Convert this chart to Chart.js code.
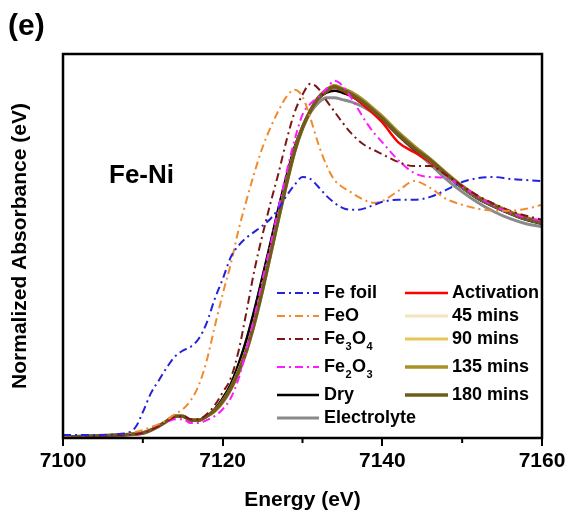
<!DOCTYPE html>
<html>
<head>
<meta charset="utf-8">
<script src="https://cdn.jsdelivr.net/npm/chart.js@4.4.0/dist/chart.umd.min.js"></script>
<style>
  html, body { margin: 0; padding: 0; background: #fff; }
</style>
</head>
<body>
<canvas id="xanes" width="571" height="529"></canvas>
<script>
// energy grid (eV) shared by every spectrum
const energy = [7100, 7104, 7107, 7109, 7110, 7111, 7112, 7113, 7114, 7115, 7116, 7117, 7118, 7119, 7120,
  7121, 7122, 7123, 7124, 7125, 7126, 7127, 7128, 7129, 7130, 7131, 7132, 7133, 7134, 7135, 7136, 7137,
  7138, 7139, 7140, 7142, 7144, 7146, 7148, 7150, 7152, 7154, 7156, 7158, 7160];

// reference spectra
const feFoil = [0.015, 0.015, 0.02, 0.05, 0.13, 0.225, 0.29, 0.355, 0.41, 0.44, 0.46, 0.5, 0.58, 0.7, 0.8,
  0.91, 0.97, 1.01, 1.04, 1.07, 1.105, 1.155, 1.22, 1.275, 1.315, 1.305, 1.265, 1.22, 1.185, 1.16, 1.15, 1.15,
  1.16, 1.175, 1.19, 1.2, 1.2, 1.215, 1.25, 1.29, 1.31, 1.315, 1.305, 1.3, 1.295];
const feO = [0.01, 0.015, 0.02, 0.03, 0.04, 0.055, 0.07, 0.09, 0.12, 0.145, 0.19, 0.265, 0.39, 0.56, 0.725,
  0.875, 1.05, 1.2, 1.34, 1.465, 1.565, 1.65, 1.72, 1.755, 1.72, 1.61, 1.48, 1.375, 1.3, 1.265, 1.24, 1.215,
  1.195, 1.185, 1.195, 1.245, 1.295, 1.26, 1.205, 1.175, 1.155, 1.145, 1.145, 1.155, 1.175];
const fe3o4 = [0.005, 0.01, 0.015, 0.02, 0.025, 0.04, 0.06, 0.085, 0.105, 0.11, 0.095, 0.095, 0.12, 0.165, 0.23,
  0.3, 0.44, 0.64, 0.85, 1.025, 1.185, 1.335, 1.5, 1.64, 1.73, 1.785, 1.76, 1.7, 1.645, 1.59, 1.54, 1.5,
  1.47, 1.45, 1.43, 1.39, 1.37, 1.37, 1.325, 1.27, 1.22, 1.18, 1.145, 1.12, 1.1];
const fe2o3 = [0.005, 0.01, 0.015, 0.02, 0.025, 0.04, 0.06, 0.08, 0.095, 0.095, 0.075, 0.075, 0.09, 0.11, 0.145,
  0.2, 0.3, 0.45, 0.615, 0.8, 0.975, 1.16, 1.34, 1.5, 1.63, 1.685, 1.72, 1.76, 1.8, 1.775, 1.72, 1.655,
  1.59, 1.535, 1.49, 1.4, 1.335, 1.315, 1.31, 1.265, 1.215, 1.17, 1.135, 1.11, 1.095];

// Fe-Ni sample spectra
const dry = [0.005, 0.01, 0.015, 0.02, 0.025, 0.04, 0.06, 0.085, 0.11, 0.11, 0.09, 0.09, 0.11, 0.145, 0.2,
  0.27, 0.375, 0.5, 0.65, 0.815, 0.985, 1.16, 1.32, 1.465, 1.57, 1.65, 1.71, 1.74, 1.75, 1.74, 1.725, 1.7,
  1.67, 1.64, 1.605, 1.525, 1.455, 1.395, 1.325, 1.26, 1.205, 1.165, 1.13, 1.1, 1.08];
const electrolyte = [0.005, 0.01, 0.015, 0.02, 0.025, 0.04, 0.06, 0.085, 0.11, 0.11, 0.09, 0.09, 0.11, 0.145, 0.195,
  0.265, 0.365, 0.49, 0.64, 0.805, 0.975, 1.15, 1.31, 1.455, 1.56, 1.64, 1.69, 1.715, 1.715, 1.705, 1.695, 1.68,
  1.66, 1.635, 1.605, 1.525, 1.45, 1.38, 1.305, 1.24, 1.185, 1.14, 1.105, 1.08, 1.065];
const activation = [0.005, 0.01, 0.015, 0.02, 0.025, 0.04, 0.06, 0.085, 0.11, 0.11, 0.09, 0.09, 0.11, 0.14, 0.19,
  0.255, 0.345, 0.455, 0.6, 0.765, 0.945, 1.12, 1.29, 1.445, 1.56, 1.645, 1.71, 1.745, 1.765, 1.75, 1.725, 1.7,
  1.665, 1.63, 1.59, 1.49, 1.44, 1.39, 1.325, 1.265, 1.21, 1.17, 1.135, 1.105, 1.085];
const mins45 = [0.005, 0.01, 0.015, 0.02, 0.025, 0.04, 0.06, 0.085, 0.11, 0.11, 0.09, 0.09, 0.11, 0.14, 0.185,
  0.25, 0.34, 0.45, 0.59, 0.755, 0.935, 1.115, 1.29, 1.445, 1.565, 1.65, 1.715, 1.75, 1.77, 1.76, 1.74, 1.715,
  1.685, 1.65, 1.615, 1.535, 1.465, 1.4, 1.33, 1.265, 1.21, 1.17, 1.135, 1.105, 1.085];
const mins90 = [0.005, 0.01, 0.015, 0.02, 0.025, 0.04, 0.06, 0.085, 0.11, 0.11, 0.09, 0.09, 0.11, 0.14, 0.185,
  0.25, 0.335, 0.445, 0.585, 0.75, 0.93, 1.11, 1.285, 1.445, 1.565, 1.65, 1.715, 1.755, 1.775, 1.76, 1.74, 1.715,
  1.685, 1.65, 1.615, 1.535, 1.465, 1.405, 1.335, 1.27, 1.215, 1.175, 1.14, 1.11, 1.09];
const mins135 = [0.005, 0.01, 0.015, 0.02, 0.025, 0.04, 0.06, 0.085, 0.11, 0.11, 0.09, 0.09, 0.11, 0.135, 0.18,
  0.245, 0.33, 0.44, 0.58, 0.745, 0.925, 1.105, 1.28, 1.44, 1.56, 1.65, 1.715, 1.755, 1.775, 1.76, 1.745, 1.72,
  1.69, 1.655, 1.62, 1.54, 1.47, 1.405, 1.335, 1.27, 1.215, 1.175, 1.14, 1.11, 1.09];
const mins180 = [0.005, 0.01, 0.015, 0.02, 0.025, 0.04, 0.06, 0.085, 0.11, 0.11, 0.09, 0.09, 0.11, 0.14, 0.185,
  0.25, 0.335, 0.445, 0.585, 0.75, 0.93, 1.11, 1.285, 1.445, 1.565, 1.65, 1.715, 1.75, 1.77, 1.755, 1.735, 1.71,
  1.68, 1.645, 1.61, 1.53, 1.46, 1.4, 1.33, 1.265, 1.21, 1.17, 1.135, 1.105, 1.085];

const xMajorTicks = [7100, 7120, 7140, 7160];
const xMinorTicks = [7110, 7130, 7150];
const legendCol1 = ["Fe foil", "FeO", "Fe₃O₄", "Fe₂O₃", "Dry", "Electrolyte"];
const legendCol2 = ["Activation", "45 mins", "90 mins", "135 mins", "180 mins"];

const FONT = "'Liberation Sans', Arial, sans-serif";
const DASH_DOT = [8, 4, 2, 4];
Chart.defaults.font.family = FONT;
Chart.defaults.color = "#000";

const series = (label, values, color, width, dash) => ({
  label,
  data: energy.map((e, i) => ({ x: e, y: values[i] })),
  borderColor: color,
  borderWidth: width,
  borderDash: dash || [],
  pointRadius: 0,
  fill: false,
  cubicInterpolationMode: "monotone",
});

// first dataset is drawn on top
const datasets = [
  series("Fe foil", feFoil, "#2323dc", 2, DASH_DOT),
  series("FeO", feO, "#f28a2e", 2, DASH_DOT),
  series("Fe₃O₄", fe3o4, "#7b1616", 2, DASH_DOT),
  series("Fe₂O₃", fe2o3, "#ff1aff", 2, DASH_DOT),
  series("180 mins", mins180, "#6f5c1c", 3.5),
  series("135 mins", mins135, "#a8902a", 3.5),
  series("90 mins", mins90, "#e6c55a", 3),
  series("45 mins", mins45, "#f4e4bd", 3),
  series("Activation", activation, "#ff0000", 2.5),
  series("Dry", dry, "#000000", 2.5),
  series("Electrolyte", electrolyte, "#8a8a8a", 3),
];

const SUB = { "₂": "2", "₃": "3", "₄": "4" };

// label text with chemical subscripts
function drawLabel(ctx, text, x, y) {
  let cx = x;
  let run = "";
  const flush = () => {
    if (!run) return;
    ctx.font = "bold 18px " + FONT;
    ctx.fillText(run, cx, y);
    cx += ctx.measureText(run).width;
    run = "";
  };
  for (const ch of text) {
    if (SUB[ch]) {
      flush();
      ctx.font = "bold 11px " + FONT;
      ctx.fillText(SUB[ch], cx + 0.5, y + 8);
      cx += ctx.measureText(SUB[ch]).width + 1;
    } else {
      run += ch;
    }
  }
  flush();
}

const decorations = {
  id: "decorations",
  afterDraw(chart) {
    const { ctx, chartArea: a, scales } = chart;
    ctx.save();

    // frame
    ctx.strokeStyle = "#000";
    ctx.lineWidth = 2.5;
    ctx.setLineDash([]);
    ctx.strokeRect(a.left, a.top, a.right - a.left, a.bottom - a.top);

    // minor ticks
    ctx.lineWidth = 2;
    ctx.beginPath();
    xMinorTicks.forEach((v) => {
      const px = scales.x.getPixelForValue(v);
      ctx.moveTo(px, a.bottom);
      ctx.lineTo(px, a.bottom + 5);
    });
    ctx.stroke();

    ctx.fillStyle = "#000";
    ctx.textBaseline = "alphabetic";
    ctx.font = "bold 30px " + FONT;
    ctx.fillText("(e)", 8, 35);
    ctx.font = "bold 26px " + FONT;
    ctx.fillText("Fe-Ni", 109, 183);

    // legend, two columns
    const rows = [293, 316, 339, 367, 395, 418];
    const cols = [
      { names: legendCol1, x0: 277, x1: 319, tx: 324 },
      { names: legendCol2, x0: 405, x1: 448, tx: 452 },
    ];
    ctx.textBaseline = "middle";
    cols.forEach((col) => {
      col.names.forEach((name, i) => {
        const ds = chart.data.datasets.find((d) => d.label === name);
        const y = rows[i];
        ctx.strokeStyle = ds.borderColor;
        ctx.lineWidth = ds.borderWidth;
        ctx.setLineDash(ds.borderDash);
        ctx.beginPath();
        ctx.moveTo(col.x0, y);
        ctx.lineTo(col.x1, y);
        ctx.stroke();
        ctx.setLineDash([]);
        ctx.fillStyle = "#000";
        drawLabel(ctx, name, col.tx, y);
      });
    });
    ctx.restore();
  },
};

new Chart(document.getElementById("xanes"), {
  type: "line",
  data: { datasets },
  options: {
    responsive: false,
    animation: false,
    layout: { padding: { left: 0, top: 54, right: 29, bottom: 0 } },
    plugins: { legend: { display: false }, tooltip: { enabled: false } },
    scales: {
      x: {
        type: "linear",
        min: 7100,
        max: 7160,
        afterBuildTicks: (axis) => {
          axis.ticks = xMajorTicks.map((v) => ({ value: v }));
        },
        ticks: {
          padding: 3,
          maxRotation: 0,
          font: { size: 21, weight: "bold" },
          callback: (v) => String(v),
        },
        grid: {
          drawOnChartArea: false,
          drawTicks: true,
          tickLength: 8,
          color: "#000",
          lineWidth: 2,
        },
        border: { display: false },
        title: {
          display: true,
          text: "Energy (eV)",
          font: { size: 21, weight: "bold" },
          padding: { top: 10.2, bottom: 16.4 },
        },
      },
      y: {
        min: 0,
        max: 1.935,
        ticks: { display: false },
        grid: { display: false, drawTicks: false },
        border: { display: false },
        title: {
          display: true,
          text: "Normalized Absorbance (eV)",
          font: { size: 21, weight: "bold" },
          padding: { top: 7.4, bottom: 30.4 },
        },
      },
    },
  },
  plugins: [decorations],
});
</script>
</body>
</html>
